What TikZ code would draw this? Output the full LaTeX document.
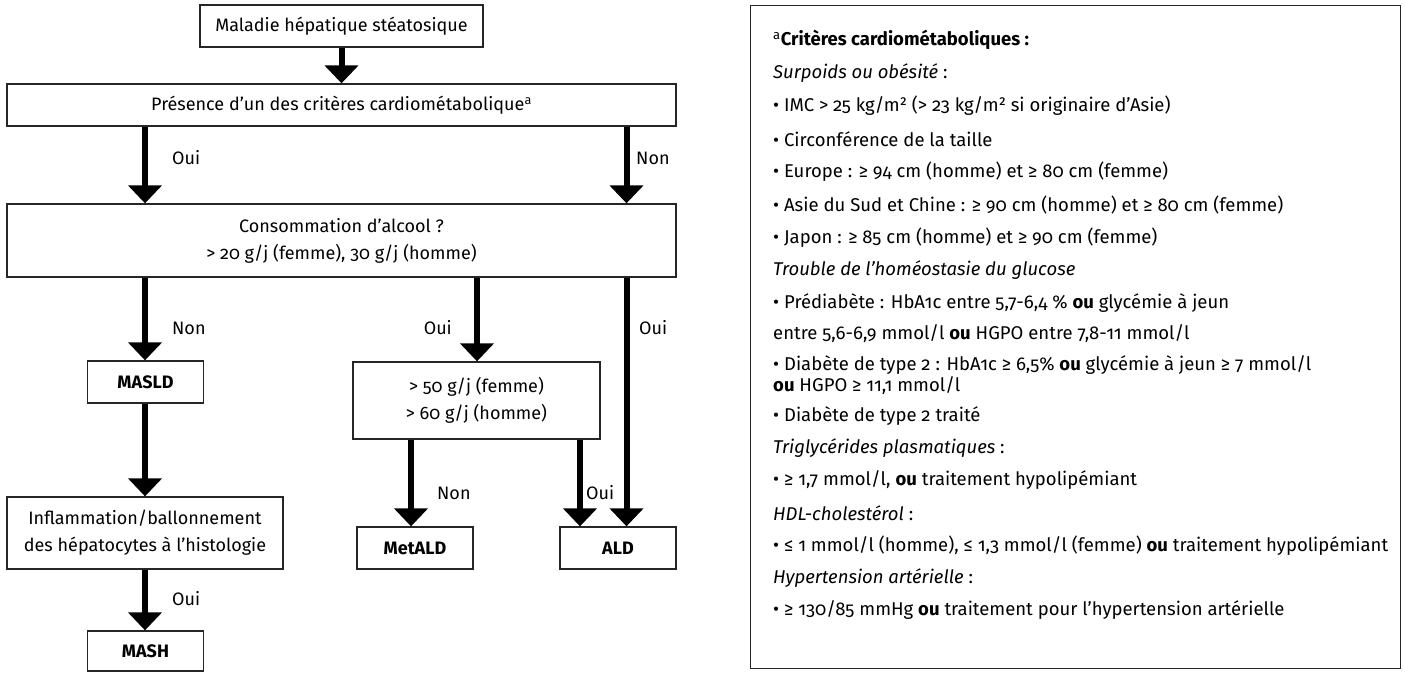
\documentclass[tikz,border=0pt]{standalone}
\usepackage{fontspec}
\setmainfont{Fira Sans}[Numbers=OldStyle]
\usetikzlibrary{arrows.meta}

\begin{document}
\begin{tikzpicture}[x=1pt, y=-1pt,
    box/.style={draw=black!85, line width=1.3pt, align=center, inner sep=0pt,
      font=\fontsize{18}{27}\selectfont},
    arr/.style={line width=6pt, -{Triangle[width=33pt,length=18pt]}},
    lbl/.style={anchor=west, inner sep=0pt, font=\fontsize{18}{20}\selectfont},
    item/.style={anchor=west, inner sep=0pt, font=\fontsize{18.5}{20}\selectfont}]
  \useasboundingbox (0,0) rectangle (1405,672);

  % columns of the arrows
  \coordinate (colL) at (145,0);
  \coordinate (colM) at (477,0);
  \coordinate (colR) at (626.5,0);
  \coordinate (colN) at (411,0);
  \coordinate (colO) at (580,0);

  % flowchart
  \node[box, minimum width=283pt, minimum height=42pt] (sick) at (341.5,26) {Maladie hépatique stéatosique};
  \node[box, minimum width=669pt, minimum height=42pt] (crit) at (341.5,105) {Présence d’un des critères cardiométabolique\textsuperscript{a}};
  \node[box, minimum width=669pt, minimum height=73pt] (alc) at (341.5,240.5) {Consommation d’alcool ?\\> 20 g/j (femme), 30 g/j (homme)};
  \node[box, minimum width=116pt, minimum height=42pt] (masld) at (145.5,382) {\textbf{MASLD}};
  \node[box, minimum width=276pt, minimum height=72pt] (infl) at (145,533) {Inflammation/ballonnement\\des hépatocytes à l’histologie};
  \node[box, minimum width=116pt, minimum height=40pt] (mash) at (145.5,651) {\textbf{MASH}};
  \node[box, minimum width=247pt, minimum height=77pt] (heavy) at (476.5,400.5) {> 50 g/j (femme)\\> 60 g/j (homme)};
  \node[box, minimum width=116pt, minimum height=42pt] (metald) at (415,548) {\textbf{MetALD}};
  \node[box, minimum width=116pt, minimum height=42pt] (ald) at (618,548) {\textbf{ALD}};

  \draw[arr] (sick) -- (crit);
  \draw[arr] (crit.south -| colL) -- (alc.north -| colL);
  \draw[arr] (crit.south -| colR) -- (alc.north -| colR);
  \draw[arr] (alc.south -| colL) -- (masld.north -| colL);
  \draw[arr] (masld.south -| colL) -- (infl.north -| colL);
  \draw[arr] (infl.south -| colL) -- (mash.north -| colL);
  \draw[arr] (alc.south -| colM) -- (heavy.north -| colM);
  \draw[arr] (alc.south -| colR) -- (ald.north -| colR);
  \draw[arr] (heavy.south -| colN) -- (metald.north -| colN);
  \draw[arr] (heavy.south -| colO) -- (ald.north -| colO);

  \node[lbl] (oui1) at (172,158) {Oui};
  \node[lbl] (non1) at (636,158) {Non};
  \node[lbl] (non2) at (172,328) {Non};
  \node[lbl, anchor=east] (oui2) at (452,328) {Oui};
  \node[lbl] (oui3) at (639,328) {Oui};
  \node[lbl] (non3) at (437,493) {Non};
  \node[lbl] (oui4) at (586,493) {Oui};
  \node[lbl] (oui5) at (172,599) {Oui};

  % criteria
  \node[draw=black!85, line width=1.3pt, inner sep=0pt, minimum width=650pt, minimum height=663pt, anchor=north west] (crbox) at (750,5) {};
  \node[item] (l1) at (773,40) {\textsuperscript{a}\textbf{Critères cardiométaboliques :}};
  \node[item] (l2) at (773,73) {\textit{Surpoids ou obésité} :};
  \node[item] (l3) at (773,106) {• IMC > 25 kg/m² (> 23 kg/m² si originaire d’Asie)};
  \node[item] (l4) at (773,139) {• Circonférence de la taille};
  \node[item] (l5) at (773,172) {• Europe : ≥ 94 cm (homme) et ≥ 80 cm (femme)};
  \node[item] (l6) at (773,205) {• Asie du Sud et Chine : ≥ 90 cm (homme) et ≥ 80 cm (femme)};
  \node[item] (l7) at (773,238) {• Japon : ≥ 85 cm (homme) et ≥ 90 cm (femme)};
  \node[item] (l8) at (773,270) {\textit{Trouble de l’homéostasie du glucose}};
  \node[item] (l9) at (773,303) {• Prédiabète : HbA1c entre 5,7-6,4 \% \textbf{ou} glycémie à jeun};
  \node[item] (l10) at (773,334) {entre 5,6-6,9 mmol/l \textbf{ou} HGPO entre 7,8-11 mmol/l};
  \node[item] (l11) at (773,365) {• Diabète de type 2 : HbA1c ≥ 6,5\% \textbf{ou} glycémie à jeun ≥ 7 mmol/l};
  \node[item] (l12) at (773,386) {\textbf{ou} HGPO ≥ 11,1 mmol/l};
  \node[item] (l13) at (773,416) {• Diabète de type 2 traité};
  \node[item] (l14) at (773,448) {\textit{Triglycérides plasmatiques} :};
  \node[item] (l15) at (773,480) {• ≥ 1,7 mmol/l, \textbf{ou} traitement hypolipémiant};
  \node[item] (l16) at (773,513) {\textit{HDL-cholestérol} :};
  \node[item] (l17) at (773,546) {• ≤ 1 mmol/l (homme), ≤ 1,3 mmol/l (femme) \textbf{ou} traitement hypolipémiant};
  \node[item] (l18) at (773,578) {\textit{Hypertension artérielle} :};
  \node[item] (l19) at (773,610) {• ≥ 130/85 mmHg \textbf{ou} traitement pour l’hypertension artérielle};
\end{tikzpicture}
\end{document}
